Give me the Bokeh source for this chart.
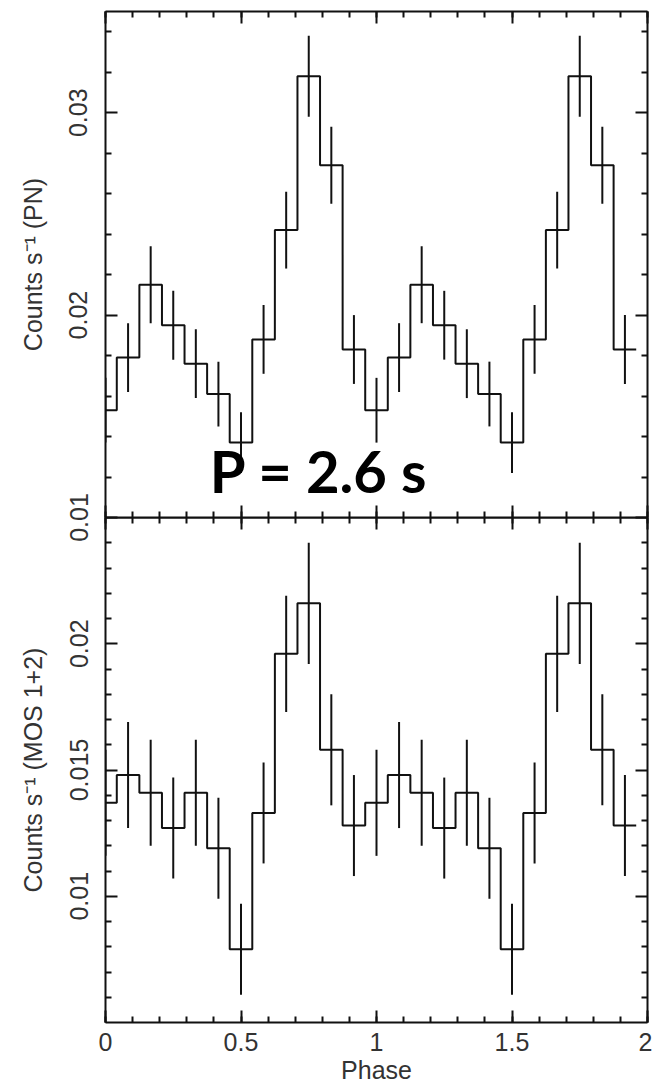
import numpy as np
from bokeh.plotting import figure
from bokeh.layouts import column
from bokeh.models import (Range1d, LinearAxis, SingleIntervalTicker, FixedTicker,
                          NumeralTickFormatter, Label)
from bokeh.embed import file_html
from bokeh.resources import INLINE

# ---------------- data (one pulse cycle, 12 phase bins; shown twice, phase 0-2) ----------------
bin_phase = [0.0, 0.0833, 0.1667, 0.25, 0.3333, 0.4167, 0.5, 0.5833, 0.6667, 0.75, 0.8333, 0.9167]
pn_rate = [0.0153, 0.0179, 0.0215, 0.0195, 0.0176, 0.0161, 0.0137, 0.0188, 0.0242, 0.0318, 0.0274, 0.0183]
pn_err = [0.0016, 0.0017, 0.0019, 0.0017, 0.0017, 0.0016, 0.0015, 0.0017, 0.0019, 0.0020, 0.0019, 0.0017]
mos_rate = [0.0137, 0.0148, 0.0141, 0.0127, 0.0141, 0.0119, 0.0079, 0.0133, 0.0196, 0.0216, 0.0158, 0.0128]
mos_err = [0.0021, 0.0021, 0.0021, 0.0020, 0.0021, 0.0020, 0.0018, 0.0020, 0.0023, 0.0024, 0.0022, 0.0020]
n_cycles = 2

pn_major = [0.01, 0.02, 0.03]
pn_minor = [0.012, 0.014, 0.016, 0.018, 0.022, 0.024, 0.026, 0.028, 0.032, 0.034]
mos_major = [0.01, 0.015, 0.02]
mos_minor = [0.006, 0.007, 0.008, 0.009, 0.011, 0.012, 0.013, 0.014,
             0.016, 0.017, 0.018, 0.019, 0.021, 0.022, 0.023, 0.024]

pn_label = "Counts s⁻¹ (PN)"
mos_label = "Counts s⁻¹ (MOS 1+2)"
x_label = "Phase"
period_text = "P = 2.6 s"

# ---------------- styling ----------------
INK = "#111111"
TXT = "#333333"
FONT = "Liberation Sans"


def style_axis(ax, labels=True):
    ax.axis_line_width = 2
    ax.axis_line_color = INK
    ax.major_tick_in = 12
    ax.major_tick_out = 0
    ax.minor_tick_in = 6
    ax.minor_tick_out = 0
    ax.major_tick_line_width = 2
    ax.minor_tick_line_width = 2
    ax.major_tick_line_color = INK
    ax.minor_tick_line_color = INK
    if labels:
        ax.major_label_text_font = FONT
        ax.major_label_text_font_size = "25px"
        ax.major_label_text_color = TXT
        ax.axis_label_text_font = FONT
        ax.axis_label_text_font_size = "25px"
        ax.axis_label_text_font_style = "normal"
        ax.axis_label_text_color = TXT
    else:
        ax.major_label_text_color = None
        ax.major_label_text_font_size = "1px"
        ax.major_label_standoff = 0


def x_ticker():
    return SingleIntervalTicker(interval=0.5, num_minor_ticks=5)


def step_and_errors(p, rate, err):
    ph = np.concatenate([np.asarray(bin_phase) + c for c in range(n_cycles)])
    r = np.tile(np.asarray(rate), n_cycles)
    e = np.tile(np.asarray(err), n_cycles)
    half = (bin_phase[1] - bin_phase[0]) / 2.0
    left = np.clip(ph - half, 0.0, None)
    right = ph + half
    xs = np.column_stack([left, right]).ravel()
    ys = np.repeat(r, 2)
    p.line(xs, ys, line_color=INK, line_width=2)
    p.segment(x0=ph, y0=r - e, x1=ph, y1=r + e, line_color=INK, line_width=2)


# ---------------- top panel (PN) ----------------
p1 = figure(width=652, height=547, x_range=Range1d(0, 2), y_range=Range1d(0.01, 0.035),
            x_axis_type=None, y_axis_type=None, output_backend="svg", toolbar_location=None,
            min_border_left=105, min_border_right=5, min_border_top=11, min_border_bottom=30)
p1.outline_line_color = None
step_and_errors(p1, pn_rate, pn_err)

ax = LinearAxis(ticker=FixedTicker(ticks=pn_major, minor_ticks=pn_minor),
                formatter=NumeralTickFormatter(format="0.[000]"),
                axis_label=pn_label, major_label_orientation="vertical",
                major_label_standoff=18, axis_label_standoff=20)
style_axis(ax)
p1.add_layout(ax, "left")
ax = LinearAxis(ticker=FixedTicker(ticks=pn_major, minor_ticks=pn_minor))
style_axis(ax, labels=False)
p1.add_layout(ax, "right")
ax = LinearAxis(ticker=x_ticker())
style_axis(ax, labels=False)
p1.add_layout(ax, "above")
ax = LinearAxis(ticker=x_ticker())
style_axis(ax, labels=False)
p1.add_layout(ax, "below")

p1.add_layout(Label(x=0.385, y=0.0123, text=period_text, text_font="Lato",
                    text_font_style="bold", text_font_size="58px", text_color="#000000",
                    text_align="left", text_baseline="alphabetic"))

# ---------------- bottom panel (MOS 1+2) ----------------
p2 = figure(width=652, height=569, x_range=Range1d(0, 2), y_range=Range1d(0.005, 0.025),
            x_axis_type=None, y_axis_type=None, output_backend="svg", toolbar_location=None,
            min_border_left=105, min_border_right=5, min_border_top=0, min_border_bottom=63,
            margin=(-30, 0, 0, 0))
p2.outline_line_color = None
p2.border_fill_alpha = 0
p2.background_fill_alpha = 0
step_and_errors(p2, mos_rate, mos_err)

ax = LinearAxis(ticker=FixedTicker(ticks=mos_major, minor_ticks=mos_minor),
                formatter=NumeralTickFormatter(format="0.[000]"),
                axis_label=mos_label, major_label_orientation="vertical",
                major_label_standoff=18, axis_label_standoff=20)
style_axis(ax)
p2.add_layout(ax, "left")
ax = LinearAxis(ticker=FixedTicker(ticks=mos_major, minor_ticks=mos_minor))
style_axis(ax, labels=False)
p2.add_layout(ax, "right")
ax = LinearAxis(ticker=x_ticker())
style_axis(ax, labels=False)
p2.add_layout(ax, "above")
ax = LinearAxis(ticker=x_ticker(), formatter=NumeralTickFormatter(format="0.[0]"),
                axis_label=x_label, major_label_standoff=10, axis_label_standoff=2)
style_axis(ax)
p2.add_layout(ax, "below")

layout = column(p1, p2, spacing=0)
open("out.html", "w").write(file_html(layout, INLINE))
